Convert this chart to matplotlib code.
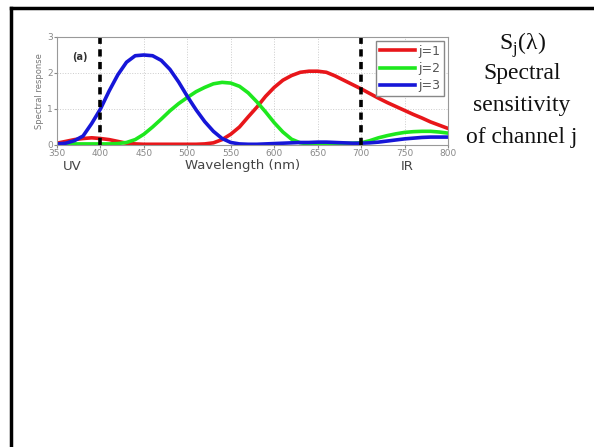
import matplotlib.pyplot as plt
import numpy as np

# wavelengths (nm) and read-off responses
wl = [350, 360, 370, 380, 390, 400, 410, 420, 430, 440, 450, 460, 470, 480, 490, 500,
      510, 520, 530, 540, 550, 560, 570, 580, 590, 600, 610, 620, 630, 640, 650, 660,
      670, 680, 690, 700, 710, 720, 730, 740, 750, 760, 770, 780, 790, 800]
red = [0.05, 0.1, 0.15, 0.18, 0.2, 0.18, 0.15, 0.1, 0.05, 0.03, 0.02, 0.02, 0.02, 0.02, 0.02, 0.02,
       0.02, 0.03, 0.06, 0.15, 0.3, 0.5, 0.78, 1.05, 1.35, 1.6, 1.8, 1.93, 2.02, 2.05, 2.05, 2.02,
       1.92, 1.8, 1.68, 1.56, 1.43, 1.3, 1.18, 1.07, 0.96, 0.85, 0.75, 0.64, 0.55, 0.46]
green = [0.03, 0.03, 0.03, 0.03, 0.03, 0.03, 0.03, 0.04, 0.07, 0.15, 0.3, 0.5, 0.72, 0.95, 1.15, 1.32,
         1.48, 1.6, 1.7, 1.74, 1.72, 1.63, 1.45, 1.2, 0.92, 0.62, 0.36, 0.16, 0.06, 0.03, 0.03, 0.04,
         0.05, 0.05, 0.05, 0.06, 0.12, 0.2, 0.26, 0.31, 0.35, 0.37, 0.38, 0.38, 0.36, 0.33]
blue = [0.03, 0.05, 0.12, 0.25, 0.6, 1.0, 1.5, 1.95, 2.3, 2.48, 2.5, 2.48, 2.35, 2.1, 1.75, 1.35,
        0.98, 0.65, 0.38, 0.18, 0.07, 0.03, 0.02, 0.02, 0.03, 0.04, 0.05, 0.06, 0.07, 0.07, 0.08, 0.08,
        0.07, 0.06, 0.05, 0.05, 0.06, 0.08, 0.11, 0.14, 0.17, 0.19, 0.21, 0.22, 0.22, 0.22]
labels = ['j=1', 'j=2', 'j=3']
colors = ['#e8161a', '#1ee81e', '#1616d8']
bounds = [400, 700]

fig = plt.figure(figsize=(5.94, 4.47), dpi=100)

# slide border (top and left)
fig.add_artist(plt.Line2D([11/594, 11/594], [0, 1 - 8/447], color='black', lw=2.5))
fig.add_artist(plt.Line2D([11/594, 1], [1 - 8/447, 1 - 8/447], color='black', lw=2.5))

ax = fig.add_axes([57/594, 1 - 145/447, 391/594, 108/447])
for y, c, l in zip([red, green, blue], colors, labels):
    ax.plot(wl, y, color=c, lw=2.6, label=l, solid_joinstyle='round')
for b in bounds:
    ax.axvline(b, color='black', ls=(0, (2, 1.5)), lw=2.6)

ax.set_xlim(350, 800)
ax.set_ylim(0, 3)
ax.set_xticks(range(350, 801, 50))
ax.set_yticks([0, 1, 2, 3])
ax.grid(True, ls=':', color='#cccccc', lw=0.7)
ax.tick_params(labelsize=6.5, colors='#888888', length=2, pad=1)
for s in ax.spines.values():
    s.set_color('#999999')
ax.set_ylabel('Spectral response', fontsize=6, color='#777777', labelpad=2)
ax.text(367, 2.45, '(a)', fontsize=7, color='#333333', fontweight='bold', va='center')

leg = ax.legend(loc='upper right', fontsize=9, handlelength=2.8, borderpad=0.3,
                labelspacing=0.35, handletextpad=0.3, fancybox=False, framealpha=1,
                borderaxespad=0.3)
leg.get_frame().set_edgecolor('#888888')
for t in leg.get_texts():
    t.set_color('#555555')

fig.text(72/594, 1 - 166/447, 'UV', fontsize=9.5, color='#444444', ha='center', va='center')
fig.text(243/594, 1 - 166/447, 'Wavelength (nm)', fontsize=9.5, color='#444444', ha='center', va='center')
fig.text(407/594, 1 - 166/447, 'IR', fontsize=9.5, color='#444444', ha='center', va='center')

rt = dict(fontsize=17, family='Liberation Serif', ha='center', va='center', color='#111111')
fig.text(522/594, 1 - 45/447, r'S$_\mathregular{j}$(λ)', **rt)
fig.text(522/594, 1 - 74/447, 'Spectral', **rt)
fig.text(522/594, 1 - 106/447, 'sensitivity', **rt)
fig.text(522/594, 1 - 138/447, 'of channel j', **rt)

fig.savefig('out.png', dpi=100)
